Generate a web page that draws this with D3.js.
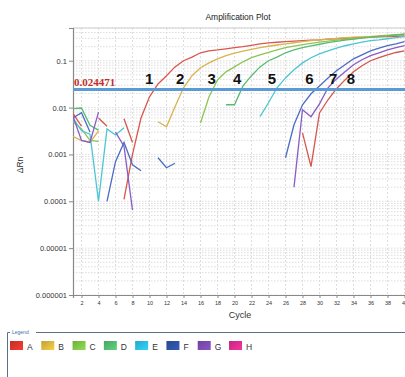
<!DOCTYPE html>
<html>
<head>
<meta charset="utf-8">
<script src="https://d3js.org/d3.v7.min.js"></script>
<style>
  body { margin: 0; background: #fff; }
  text { font-family: "Liberation Sans", Arial, sans-serif; }
</style>
</head>
<body>
<svg width="405" height="377"></svg>
<script>
// cycles 1..40, null = no value on log scale
const cycles = d3.range(1, 41);
const seriesA = [0.0075, 0.004, null, null, null, null, 0.00011, 0.001, 0.006, 0.017, 0.032, 0.048, 0.074, 0.1, 0.12, 0.148, 0.163, 0.17, 0.18, 0.19, 0.2, 0.214, 0.228, 0.24, 0.248, 0.255, 0.262, 0.27, 0.275, 0.28, 0.288, 0.295, 0.302, 0.31, 0.314, 0.318, 0.322, 0.326, 0.333, 0.34];
const seriesB = [0.0024, 0.002, 0.0018, 0.0032, null, null, null, null, null, null, 0.005, 0.0039, 0.0104, 0.0265, 0.048, 0.071, 0.09, 0.11, 0.128, 0.145, 0.16, 0.175, 0.19, 0.204, 0.217, 0.23, 0.242, 0.255, 0.268, 0.28, 0.29, 0.3, 0.31, 0.318, 0.324, 0.33, 0.34, 0.35, 0.36, 0.37];
const seriesC = [0.005, 0.0035, 0.002, 0.0019, null, null, null, null, null, null, null, null, null, null, null, 0.0047, 0.017, 0.039, 0.058, 0.074, 0.095, 0.116, 0.134, 0.15, 0.17, 0.19, 0.205, 0.22, 0.235, 0.25, 0.262, 0.275, 0.285, 0.295, 0.307, 0.318, 0.33, 0.34, 0.35, 0.36];
const seriesD = [0.0095, 0.0098, 0.0042, 0.0033, null, null, null, null, null, null, null, null, null, null, null, null, null, null, 0.0115, 0.0115, 0.029, 0.048, 0.074, 0.1, 0.12, 0.148, 0.17, 0.19, 0.208, 0.225, 0.243, 0.26, 0.275, 0.29, 0.305, 0.318, 0.33, 0.34, 0.355, 0.37];
const seriesE = [0.006, 0.0032, 0.0027, 0.0001, 0.0035, 0.0026, 0.0037, null, null, null, null, null, null, null, null, null, null, null, null, null, null, null, 0.0064, 0.0127, 0.0265, 0.043, 0.064, 0.09, 0.116, 0.14, 0.163, 0.185, 0.209, 0.23, 0.25, 0.27, 0.28, 0.295, 0.31, 0.326];
const seriesF = [0.006, 0.0078, 0.003, null, 0.0001, 0.0007, 0.0018, 0.0006, 0.00045, null, 0.00085, 0.00052, 0.00065, null, null, null, null, null, null, null, null, null, null, null, null, 0.00085, 0.0043, 0.0115, 0.0197, 0.029, 0.043, 0.061, 0.082, 0.11, 0.134, 0.163, 0.185, 0.21, 0.23, 0.255];
const seriesG = [0.0065, 0.002, 0.0018, 0.008, null, 0.003, 0.0015, 0.000065, null, null, null, null, null, null, null, null, null, null, null, null, null, null, null, null, null, null, 0.0002, 0.009, 0.0064, 0.012, 0.0265, 0.041, 0.058, 0.082, 0.105, 0.128, 0.148, 0.17, 0.19, 0.21];
const seriesH = [null, null, null, 0.006, 0.004, null, 0.0058, 0.0018, null, null, null, null, null, null, null, null, null, null, null, null, null, null, null, null, null, null, null, 0.0029, 0.00055, 0.0077, 0.0147, 0.0253, 0.039, 0.058, 0.078, 0.1, 0.116, 0.134, 0.15, 0.163];

const allSeries = [seriesA, seriesB, seriesC, seriesD, seriesE, seriesF, seriesG, seriesH];
const lineColors = ["#d9574c", "#d8b34e", "#8cc556", "#58bb72", "#4cc6d3", "#4a6cc2", "#8a5cc4", "#d2574e"];

const legendNames = ["A", "B", "C", "D", "E", "F", "G", "H"];
const legendColors = ["#d8342b", "#d6b43c", "#7cc244", "#52b86e", "#2bb9de", "#2c50a1", "#7a4aae", "#d92c8c"];

const yTicks = [0.1, 0.01, 0.001, 0.0001, 0.00001, 0.000001];
const yTickLabels = ["0.1", "0.01", "0.001", "0.0001", "0.00001", "0.000001"];
const xTicks = d3.range(2, 41, 2);

const threshold = 0.024471;
// Ct label positions (cycle) for the numbers above the threshold
const ctLabels = ["1", "2", "3", "4", "5", "6", "7", "8"];
const ctCycles = [9.95, 13.6, 17.3, 20.3, 24.4, 28.8, 31.6, 33.7];

const plotLeft = 73, plotTop = 28, plotBottom = 295;
const svg = d3.select("svg");

const x = d3.scaleLinear().domain([1, 41]).range([plotLeft, plotLeft + 340]);
const y = d3.scaleLog().domain([1e-6, 0.5]).range([plotBottom, plotTop]);

// title
svg.append("text").attr("x", 238).attr("y", 20).attr("text-anchor", "middle")
  .attr("font-size", 8.5).attr("fill", "#222").text("Amplification Plot");

// grid
const grid = svg.append("g");
const minor = [];
for (let e = -6; e <= -1; e++) for (let m = 1; m <= 9; m++) {
  const v = m * Math.pow(10, e);
  if (v <= 0.5) minor.push(v);
}
grid.selectAll("line.h").data(minor).enter().append("line")
  .attr("x1", plotLeft).attr("x2", 405)
  .attr("y1", d => y(d)).attr("y2", d => y(d))
  .attr("stroke", "#d4d4d4").attr("stroke-width", 0.8)
  .attr("stroke-dasharray", "1.5,1.5");
grid.selectAll("line.v").data(xTicks).enter().append("line")
  .attr("x1", d => x(d)).attr("x2", d => x(d))
  .attr("y1", plotTop).attr("y2", plotBottom)
  .attr("stroke", "#d4d4d4").attr("stroke-width", 0.8)
  .attr("stroke-dasharray", "2,2");
svg.append("line").attr("x1", plotLeft).attr("x2", 405).attr("y1", plotTop).attr("y2", plotTop)
  .attr("stroke", "#cfcfcf");

// axes
const yAxis = svg.append("g").attr("transform", `translate(${plotLeft},0)`)
  .call(d3.axisLeft(y).tickValues(yTicks).tickFormat((d, i) => yTickLabels[i]).tickSize(4).tickPadding(2));
const xAxis = svg.append("g").attr("transform", `translate(0,${plotBottom})`)
  .call(d3.axisBottom(x).tickValues(xTicks).tickSize(3).tickPadding(3));
[yAxis, xAxis].forEach(g => {
  g.select(".domain").attr("stroke", "#888").attr("stroke-width", 1.2);
  g.selectAll(".tick line").attr("stroke", "#888");
  g.selectAll("text").attr("fill", "#333").style("font-family", "Liberation Sans, Arial, sans-serif");
});
yAxis.selectAll("text").attr("font-size", 7.5);
xAxis.selectAll("text").attr("font-size", 5.5);

svg.append("text").attr("x", 240).attr("y", 318).attr("text-anchor", "middle")
  .attr("font-size", 9).attr("fill", "#333").text("Cycle");
svg.append("text").attr("transform", "translate(23,165) rotate(-90)").attr("text-anchor", "middle")
  .attr("font-size", 8.5).attr("fill", "#333").text("ΔRn");

// curves
svg.append("clipPath").attr("id", "plot").append("rect")
  .attr("x", plotLeft).attr("y", plotTop).attr("width", 405 - plotLeft).attr("height", plotBottom - plotTop);
const line = d3.line()
  .defined(d => d.v != null)
  .x(d => x(d.c)).y(d => y(d.v));
svg.append("g").attr("clip-path", "url(#plot)")
  .selectAll("path").data(allSeries).enter().append("path")
  .attr("d", s => line(s.map((v, i) => ({ c: cycles[i], v: v }))))
  .attr("fill", "none")
  .attr("stroke", (s, i) => lineColors[i])
  .attr("stroke-width", 1.3);

// threshold
svg.append("line").attr("x1", plotLeft).attr("x2", 405)
  .attr("y1", y(threshold)).attr("y2", y(threshold))
  .attr("stroke", "#5b9bd5").attr("stroke-width", 3);
svg.append("text").attr("x", plotLeft + 1).attr("y", y(threshold) - 3)
  .attr("font-size", 11).attr("font-weight", "bold")
  .style("font-family", "Liberation Serif, Times New Roman, serif")
  .attr("fill", "#c0302a").text(String(threshold));

svg.selectAll("text.ct").data(ctLabels).enter().append("text")
  .attr("x", (d, i) => x(ctCycles[i])).attr("y", 84)
  .attr("text-anchor", "middle").attr("font-size", 15).attr("font-weight", "bold")
  .attr("fill", "#111").text(d => d);

// legend
const lg = svg.append("g");
lg.append("path").attr("d", "M36,332.5 H405 M10,332.5 H7.5 V377")
  .attr("fill", "none").attr("stroke", "#5a6f8c").attr("stroke-width", 1);
lg.append("text").attr("x", 12).attr("y", 334).attr("font-size", 5)
  .attr("fill", "#3a6fb0").text("Legend");
const defs = svg.append("defs");
legendColors.forEach((c, i) => {
  const gr = defs.append("linearGradient").attr("id", "g" + i).attr("x1", 0).attr("x2", 1).attr("y1", 0).attr("y2", 1);
  gr.append("stop").attr("offset", 0).attr("stop-color", d3.color(c).darker(0.3));
  gr.append("stop").attr("offset", 1).attr("stop-color", d3.color(c).brighter(0.4));
});
const legX = d3.scalePoint().domain(legendNames).range([10, 229]);
const item = lg.selectAll("g.item").data(legendNames).enter().append("g")
  .attr("transform", d => `translate(${legX(d)},341)`);
item.append("rect").attr("width", 13).attr("height", 9).attr("fill", (d, i) => `url(#g${i})`);
item.append("text").attr("x", 17).attr("y", 8.5).attr("font-size", 8.5).attr("fill", "#333").text(d => d);
</script>
</body>
</html>
